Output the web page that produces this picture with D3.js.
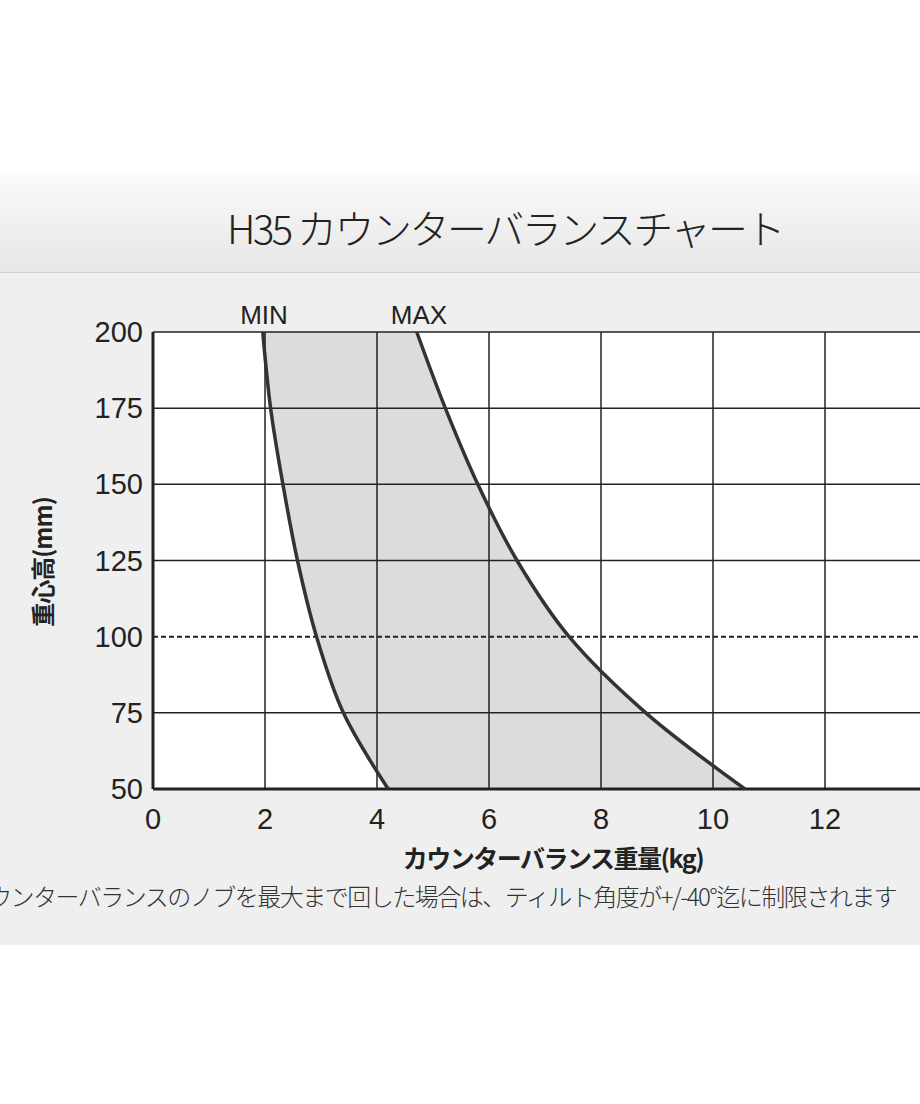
<!DOCTYPE html><html><head><meta charset="utf-8"><script src="https://d3js.org/d3.v7.min.js"></script>
<style>body{margin:0;background:#fff}</style></head><body><script>
const heights=[200,175,150,125,100,75,50];
const minKg=[1.96,2.1,2.32,2.58,2.92,3.4,4.2];
const maxKg=[4.71,5.22,5.8,6.5,7.43,8.8,10.57];
const xTicks=[0,2,4,6,8,10,12,14];
const yTicks=[50,75,100,125,150,175,200];
const svg=d3.select("body").append("svg").attr("width",920).attr("height",1104);
const f="'Liberation Sans',Arial,sans-serif";
const jf="'Noto Sans CJK JP',sans-serif";
const defs=svg.append("defs");
const g1=defs.append("linearGradient").attr("id","tg").attr("x1",0).attr("y1",0).attr("x2",0).attr("y2",1);
g1.append("stop").attr("offset",0).attr("stop-color","#fafafa");g1.append("stop").attr("offset",1).attr("stop-color","#e6e6e6");
svg.append("rect").attr("x",0).attr("y",175).attr("width",920).attr("height",770).attr("fill","#efefef");
svg.append("rect").attr("x",0).attr("y",175).attr("width",920).attr("height",97).attr("fill","url(#tg)");
svg.append("line").attr("x1",0).attr("x2",920).attr("y1",272.5).attr("y2",272.5).attr("stroke","#d0d0d0");
svg.append("text").attr("x",505).attr("y",244).attr("text-anchor","middle").attr("font-family",jf).attr("font-weight",300).attr("font-size",40).attr("letter-spacing","-2.5").attr("fill","#222").text("H35 カウンターバランスチャート");
const x=d3.scaleLinear().domain([0,14]).range([153,937]);
const y=d3.scaleLinear().domain([50,200]).range([789,332]);
svg.append("rect").attr("x",153).attr("y",332).attr("width",784).attr("height",457).attr("fill","#fff");
const minC=d3.zip(minKg,heights), maxC=d3.zip(maxKg,heights);
const ln=d3.line().x(d=>x(d[0])).y(d=>y(d[1])).curve(d3.curveCatmullRom);
const band=ln(minC)+"L"+ln(maxC.slice().reverse()).slice(1)+"Z";
svg.append("path").attr("d",band).attr("fill","#dcdcdc");
const g=svg.append("g");
xTicks.forEach(t=>{if(t>0)g.append("line").attr("x1",x(t)).attr("x2",x(t)).attr("y1",332).attr("y2",789).attr("stroke","#222").attr("stroke-width",1.5);});
yTicks.forEach(t=>{if(t!==100)g.append("line").attr("x1",153).attr("x2",937).attr("y1",y(t)).attr("y2",y(t)).attr("stroke","#222").attr("stroke-width",t===50?3:1.5);});
g.append("line").attr("x1",153).attr("x2",937).attr("y1",y(100)).attr("y2",y(100)).attr("stroke","#222").attr("stroke-width",2).attr("stroke-dasharray","5,3");
g.append("line").attr("x1",153).attr("x2",153).attr("y1",332).attr("y2",789).attr("stroke","#222").attr("stroke-width",3);
[minC,maxC].forEach(c=>svg.append("path").attr("d",ln(c)).attr("fill","none").attr("stroke","#333").attr("stroke-width",3.5));
yTicks.forEach(t=>svg.append("text").attr("x",143).attr("y",y(t)+10).attr("text-anchor","end").attr("font-family",f).attr("font-size",29).attr("fill","#222").text(t));
xTicks.forEach(t=>svg.append("text").attr("x",x(t)).attr("y",829).attr("text-anchor","middle").attr("font-family",f).attr("font-size",29).attr("fill","#222").text(t));
svg.append("text").attr("x",264).attr("y",324).attr("text-anchor","middle").attr("font-family",f).attr("font-size",26).attr("fill","#222").text("MIN");
svg.append("text").attr("x",419).attr("y",324).attr("text-anchor","middle").attr("font-family",f).attr("font-size",26).attr("fill","#222").text("MAX");
svg.append("text").attr("x",553).attr("y",868).attr("text-anchor","middle").attr("font-family",jf).attr("font-weight",700).attr("font-size",25).attr("letter-spacing","-1.5").attr("fill","#222").text("カウンターバランス重量(kg)");
svg.append("text").attr("transform","translate(52,562) rotate(-90)").attr("text-anchor","middle").attr("font-family",jf).attr("font-weight",700).attr("font-size",24).attr("letter-spacing","-1").attr("fill","#222").text("重心高(mm)");
svg.append("text").attr("x",-12).attr("y",906).attr("font-family",jf).attr("font-weight",300).attr("font-size",24).attr("letter-spacing","-1.5").attr("fill","#333").text("ウンターバランスのノブを最大まで回した場合は、ティルト角度が+/-40°迄に制限されます");
</script></body></html>
